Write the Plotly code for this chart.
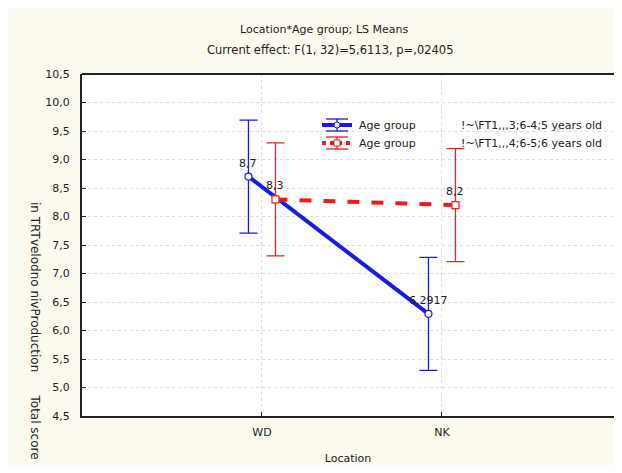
import plotly.graph_objects as go

categories = ["WD", "NK"]
group_names = ["!~\\FT1,,,3;6-4;5 years old", "!~\\FT1,,,4;6-5;6 years old"]
means_young = [8.7, 6.2917]
means_old = [8.3, 8.2]
err_young = [0.99, 0.99]
err_old = [0.99, 0.99]
labels_young = ["8,7", "6,2917"]
labels_old = ["8,3", "8,2"]

# page body has an 8px margin; size the figure to fill the window exactly
OX, OY = 8, 8
W, H = 606, 457
L, R, T, B = 74, 0, 66, 49
FONT = "DejaVu Sans, Verdana, sans-serif"
BLUE = "#1a1ae6"
RED = "#ee1c1c"
RED_ERR = "#dd2a2a"
TXT = "#222"

idx = list(range(len(categories)))
off = 0.075
x_young = [i - off for i in idx]
x_old = [i + off for i in idx]


def px(x):
    return (x - OX - L) / (W - L - R)


def py(y):
    return (H - B - (y - OY)) / (H - T - B)


fig = go.Figure()
fig.add_trace(go.Scatter(
    x=x_young, y=means_young, mode="lines+markers",
    line=dict(color=BLUE, width=4),
    marker=dict(symbol="circle", size=7, color="white", line=dict(color=BLUE, width=1.2)),
    error_y=dict(type="data", array=err_young, color=BLUE, thickness=1.3, width=9),
    showlegend=False, cliponaxis=False))
fig.add_trace(go.Scatter(
    x=x_old, y=means_old, mode="lines+markers",
    line=dict(color=RED, width=4, dash="dash"),
    marker=dict(symbol="square", size=7, color="white", line=dict(color=RED, width=1.2)),
    error_y=dict(type="data", array=err_old, color=RED_ERR, thickness=1.3, width=9),
    showlegend=False, cliponaxis=False))

# point labels
for xs, ys, labs in [(x_young, means_young, labels_young), (x_old, means_old, labels_old)]:
    for x, y, t in zip(xs, ys, labs):
        fig.add_annotation(x=x, y=y, text=t, showarrow=False, xanchor="center", yanchor="bottom",
                           yshift=5, xshift=0, font=dict(size=11, color=TXT, family=FONT))

# titles
fig.add_annotation(x=px(324), y=py(30), xref="paper", yref="paper", text="Location*Age group; LS Means",
                   showarrow=False, xanchor="center", yanchor="middle",
                   font=dict(size=11, color=TXT, family=FONT))
fig.add_annotation(x=px(330), y=py(50), xref="paper", yref="paper",
                   text="Current effect: F(1, 32)=5,6113, p=,02405", xanchor="center", yanchor="middle",
                   showarrow=False, font=dict(size=11.5, color=TXT, family=FONT))

fig.update_layout(
    width=W, height=H, margin=dict(l=L, r=R, t=T, b=B, autoexpand=False),
    paper_bgcolor="#fdfbf0", plot_bgcolor="white",
    separators=", ",
    font=dict(family=FONT, size=11, color=TXT),
    xaxis=dict(range=[-1, 1.956], tickvals=idx, ticktext=categories, showgrid=True,
               gridcolor="#dedede", griddash="dot", gridwidth=1, zeroline=False,
               showline=True, linecolor="#222", linewidth=2, mirror=False,
               ticks="inside", ticklen=4, tickcolor="#222", ticklabelstandoff=5,
               title=dict(text="Location", font=dict(size=11), standoff=18)),
    yaxis=dict(range=[4.5, 10.5], dtick=0.5, tick0=4.5, tickformat=".1f", showgrid=True,
               gridcolor="#dedede", griddash="dot", gridwidth=1, zeroline=False,
               showline=True, linecolor="#222", linewidth=2, mirror=False,
               ticks="inside", ticklen=4, tickcolor="#222", ticklabelstandoff=8),
)
# top frame line
fig.add_shape(type="line", xref="paper", yref="paper", x0=0, x1=1, y0=1, y1=1,
              line=dict(color="#222", width=2))

for ly, col, dash, sym, name in [(125, BLUE, "solid", "circle", group_names[0]),
                                 (143, RED, "dash", "square", group_names[1])]:
    fig.add_shape(type="line", xref="paper", yref="paper", x0=px(322), x1=px(352), y0=py(ly), y1=py(ly),
                  line=dict(color=col, width=4, dash="dot" if dash == "dash" else "solid"))
    fig.add_shape(type="line", xref="paper", yref="paper", x0=px(337), x1=px(337), y0=py(ly - 6), y1=py(ly + 6),
                  line=dict(color=col, width=1.3))
    for cy in (ly - 6, ly + 6):
        fig.add_shape(type="line", xref="paper", yref="paper", x0=px(326), x1=px(348), y0=py(cy), y1=py(cy),
                      line=dict(color=col, width=1.3))
    if sym == "circle":
        fig.add_shape(type="circle", xref="paper", yref="paper", x0=px(334), x1=px(340), y0=py(ly - 3), y1=py(ly + 3),
                      fillcolor="white", line=dict(color=col, width=1))
    else:
        fig.add_shape(type="rect", xref="paper", yref="paper", x0=px(334), x1=px(340), y0=py(ly - 3), y1=py(ly + 3),
                      fillcolor="white", line=dict(color=col, width=1))
    fig.add_annotation(x=px(357), y=py(ly), xref="paper", yref="paper", text="Age group", showarrow=False,
                       xanchor="left", yanchor="middle", font=dict(size=11, color=TXT))
    fig.add_annotation(x=px(459), y=py(ly), xref="paper", yref="paper", text=name, showarrow=False,
                       xanchor="left", yanchor="middle", font=dict(size=11, color=TXT))

# y axis title (overlapping text as in reference)
fig.add_annotation(x=px(35), y=py(200), xref="paper", yref="paper", text="in TRTvelodno nivProduction",
                   showarrow=False, textangle=90, xanchor="center", yanchor="top",
                   font=dict(size=12, color=TXT))
fig.add_annotation(x=px(35), y=py(392), xref="paper", yref="paper", text="Total score",
                   showarrow=False, textangle=90, xanchor="center", yanchor="top",
                   font=dict(size=12, color=TXT))

fig.write_html("out.html")
